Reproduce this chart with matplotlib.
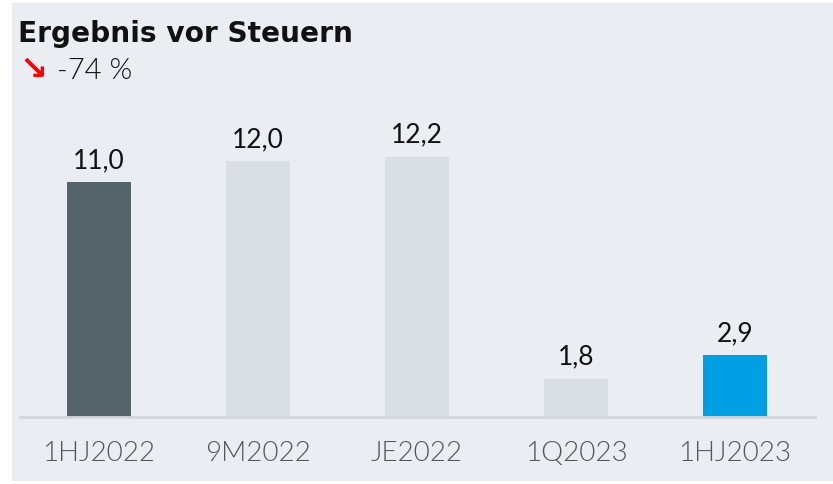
import matplotlib
matplotlib.use("Agg")
import matplotlib.pyplot as plt
from matplotlib.patches import Rectangle

# Daten
kategorien = ["1HJ2022", "9M2022", "JE2022", "1Q2023", "1HJ2023"]
werte = [11.0, 12.0, 12.2, 1.8, 2.9]
farben = ["#56646b", "#dadfe3", "#dadfe3", "#dadfe3", "#009fe3"]
titel = "Ergebnis vor Steuern"
veraenderung = "-74 %"

plt.rcParams["font.family"] = ["Lato", "DejaVu Sans"]

fig = plt.figure(figsize=(8.33, 4.84), dpi=100)
fig.patch.set_facecolor("white")

# grauer Hintergrund
fig.patches.append(Rectangle((12 / 833, 3 / 484), 821 / 833, 478 / 484,
                             transform=fig.transFigure, facecolor="#eaedf1",
                             edgecolor="none", zorder=-10))

ax = fig.add_axes([19.5 / 833, 67 / 484, 795 / 833, 320 / 484])
ax.set_facecolor("none")

x = range(len(kategorien))
ax.bar(x, werte, width=0.40, color=farben, zorder=2)

for xi, v in zip(x, werte):
    ax.annotate(f"{v:.1f}".replace(".", ","), (xi, v), xytext=(0, 6.5),
                textcoords="offset points", ha="center", va="bottom",
                fontsize=19, color="#111111")

ax.set_xlim(-0.5, len(kategorien) - 0.5)
ax.set_ylim(0, 15)
ax.set_xticks(list(x))
ax.set_xticklabels(kategorien, fontsize=20, color="#555555", fontweight=300)
ax.tick_params(axis="x", length=0, pad=17)
ax.set_yticks([])
for s in ["top", "left", "right"]:
    ax.spines[s].set_visible(False)
ax.spines["bottom"].set_color("#d3d7da")
ax.spines["bottom"].set_linewidth(2)

# Titel und Veränderung
fig.text(18 / 833, 1 - 42 / 484, titel, fontsize=20.2, fontweight="bold",
         color="#111111", va="baseline", family="DejaVu Sans")
fig.text(19 / 833, 1 - 79 / 484, "\u2198", fontsize=24, fontweight="bold",
         color="#ff0000", va="baseline", family="DejaVu Sans")
fig.text(57 / 833, 1 - 79 / 484, veraenderung, fontsize=21, fontweight=300,
         color="#111111", va="baseline")

fig.savefig("out.png", dpi=100)
